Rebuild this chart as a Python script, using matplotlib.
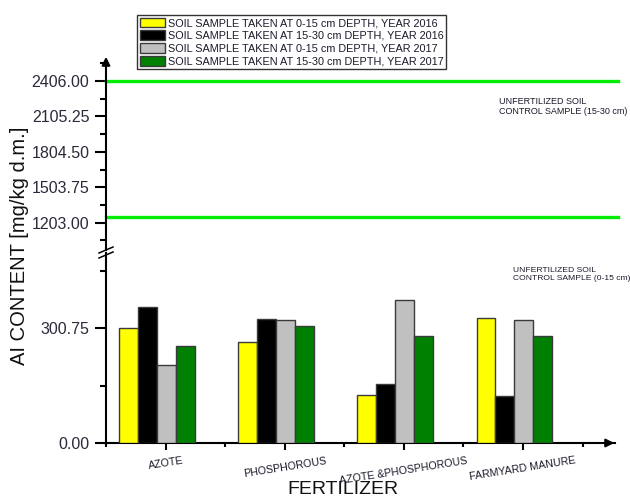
import matplotlib
matplotlib.use("Agg")
import matplotlib.pyplot as plt
import numpy as np
from matplotlib.ticker import FixedLocator, FormatStrFormatter
from matplotlib.lines import Line2D
from matplotlib.patches import Patch, FancyArrowPatch

plt.rcParams['font.family'] = ['Liberation Sans', 'DejaVu Sans']

categories = ["AZOTE", "PHOSPHOROUS", "AZOTE &PHOSPHOROUS", "FARMYARD MANURE"]
series_labels = ["SOIL SAMPLE TAKEN AT 0-15 cm DEPTH, YEAR 2016",
                 "SOIL SAMPLE TAKEN AT 15-30 cm DEPTH, YEAR 2016",
                 "SOIL SAMPLE TAKEN AT 0-15 cm DEPTH, YEAR 2017",
                 "SOIL SAMPLE TAKEN AT 15-30 cm DEPTH, YEAR 2017"]
y2016_0_15 = [303, 266, 127, 328]
y2016_15_30 = [358, 326, 155, 124]
y2017_0_15 = [205, 323, 376, 323]
y2017_15_30 = [254, 308, 281, 281]
series = [y2016_0_15, y2016_15_30, y2017_0_15, y2017_15_30]
colors = ["#FFFF00", "#000000", "#C0C0C0", "#008000"]

control_15_30 = 2406
control_0_15 = 1255
upper_ticks = [1203.00, 1503.75, 1804.50, 2105.25, 2406.00]
lower_ticks = [0.00, 300.75]

W, H = 630, 499
fig = plt.figure(figsize=(W/100, H/100), dpi=100)

def fx(px): return px / W
def fy(py): return 1 - py / H

left_px, right_px = 106, 615
up_top, up_bot = 60, 250
lo_top, lo_bot = 253, 443

ax_u = fig.add_axes([fx(left_px), fy(up_bot), fx(right_px - left_px), (up_bot - up_top) / H])
ax_l = fig.add_axes([fx(left_px), fy(lo_bot), fx(right_px - left_px), (lo_bot - lo_top) / H])

xlim = (0.52, 4.772)
x = np.arange(1, len(categories) + 1)
w = 0.159
off = -0.072
for j, (vals, c) in enumerate(zip(series, colors)):
    ax_l.bar(x + off + (j - 1.5) * w, vals, width=w, color=c,
             edgecolor="#3a3a3a", linewidth=1.0, zorder=3)

# upper axis
ax_u.set_xlim(*xlim)
ax_u.set_ylim(971, 2584)
ax_u.axhline(control_15_30, color="#00EE00", lw=2.4, xmin=0, xmax=1.005, clip_on=False, zorder=2)
ax_u.axhline(control_0_15, color="#00EE00", lw=2.4, xmin=0, xmax=1.005, clip_on=False, zorder=2)
ax_u.yaxis.set_major_locator(FixedLocator(upper_ticks))
ax_u.yaxis.set_minor_locator(FixedLocator([1052.625, 1353.375, 1654.125, 1954.875, 2255.625, 2556.375]))
ax_u.yaxis.set_major_formatter(FormatStrFormatter("%.2f"))
for s in ["top", "right", "bottom"]:
    ax_u.spines[s].set_visible(False)
ax_u.set_xticks([])

# lower axis
ax_l.set_xlim(*xlim)
ax_l.set_ylim(0, 498.7)
ax_l.yaxis.set_major_locator(FixedLocator(lower_ticks))
ax_l.yaxis.set_minor_locator(FixedLocator([150.375, 451.125]))
ax_l.yaxis.set_major_formatter(FormatStrFormatter("%.2f"))
for s in ["top", "right"]:
    ax_l.spines[s].set_visible(False)
ax_l.set_xticks(x)
ax_l.set_xticks([0.5, 1.5, 2.5, 3.5, 4.5], minor=True)
ax_l.set_xticklabels(categories, rotation=9, fontsize=7.7, color="#1a1a2a", ha="center")

for ax in (ax_u, ax_l):
    ax.spines["left"].set_linewidth(1.5)
    ax.spines["bottom"].set_linewidth(1.5)
    ax.tick_params(axis="y", which="major", direction="out", length=8, width=1.5,
                   labelsize=11.5, labelcolor="#2a2a3a", pad=4)
    ax.tick_params(axis="y", which="minor", direction="out", length=4, width=1.5)
    ax.tick_params(axis="x", which="major", direction="out", length=5, width=1.5, pad=4)
    ax.tick_params(axis="x", which="minor", direction="out", length=3, width=1.5)
    ax.set_facecolor("none")

# arrows
fig.add_artist(FancyArrowPatch(
    (fx(left_px), fy(up_top + 5)), (fx(left_px), fy(54)), transform=fig.transFigure,
    arrowstyle="-|>", mutation_scale=12, lw=1.5, color="black"))
fig.add_artist(FancyArrowPatch(
    (fx(right_px - 8), fy(lo_bot)), (fx(right_px + 2), fy(lo_bot)), transform=fig.transFigure,
    arrowstyle="-|>", mutation_scale=12, lw=1.5, color="black"))

# break marks
for yy in (250, 255):
    fig.add_artist(Line2D([fx(99), fx(113)], [fy(yy + 3), fy(yy - 3)], color="black", lw=1.1))

# labels
fig.text(fx(20), fy(246), "AI CONTENT [mg/kg d.m.]", rotation=90, fontsize=14.5,
         ha="center", va="center", color="#111111")
fig.text(fx(343), fy(490), "FERTILIZER", fontsize=14, ha="center", va="center", color="#111111")

fig.text(fx(499), fy(97), "UNFERTILIZED SOIL\nCONTROL SAMPLE (15-30 cm)", fontsize=6.5,
         ha="left", va="top", linespacing=1.15, color="#1a1a2a")
fig.text(fx(513), fy(267), "UNFERTILIZED SOIL\nCONTROL SAMPLE (0-15 cm)", fontsize=6.1,
         ha="left", va="top", linespacing=1.15, color="#1a1a2a")

handles = [Patch(facecolor=c, edgecolor="#3a3a3a", linewidth=1.0) for c in colors]
leg = fig.legend(handles, series_labels, loc="upper left", bbox_to_anchor=(fx(137), fy(15)),
                 borderaxespad=0, fontsize=7.8, handlelength=2.3, handleheight=1.0,
                 handletextpad=0.3, labelspacing=0.2, borderpad=0.25, frameon=True,
                 fancybox=False, edgecolor="black")
leg.get_frame().set_linewidth(1.0)
for t in leg.get_texts():
    t.set_color("#1a1a2a")

fig.savefig("out.png", dpi=100)
